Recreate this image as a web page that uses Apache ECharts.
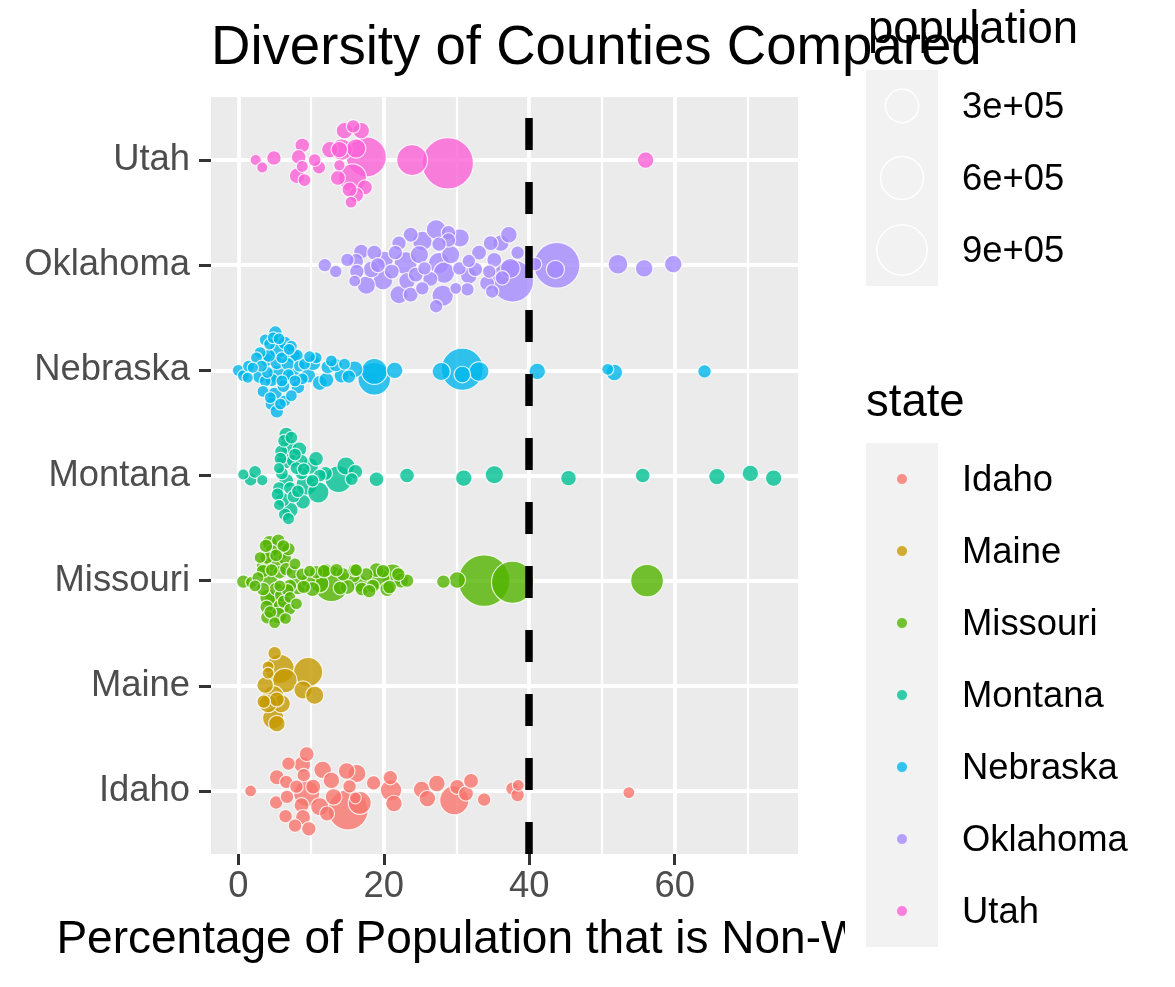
<!DOCTYPE html>
<html>
<head>
<meta charset="utf-8">
<script src="https://cdn.jsdelivr.net/npm/echarts@6/dist/echarts.min.js"></script>
<style>html,body{margin:0;padding:0;background:#fff}#c{width:1175px;height:987px}</style>
</head>
<body>
<div id="c"></div>
<script>
const states = ['Idaho','Maine','Missouri','Montana','Nebraska','Oklahoma','Utah'];
const stateColors = ['#F8766D','#C49A00','#53B400','#00C094','#00B6EB','#A58AFF','#FB61D7'];
const xTicks = [0, 20, 40, 60];
const xMinorTicks = [10, 30, 50, 70];
const yTicks = [1, 2, 3, 4, 5, 6, 7];
const popLegend = [300000, 600000, 900000];
const popLegendLabels = ['3e+05', '6e+05', '9e+05'];
const threshold = 40;
const titleText = 'Diversity of Counties Compared';
const xTitle = 'Percentage of Population that is Non-White';

// Each state: percent non-white, swarm offset (in category units), population
const idahoPct = [1.7,5.3,5.2,6.5,6.6,6.9,6.7,7.8,8.8,9.4,9.0,9.4,8.7,8.9,9.7,8.0,10.3,11.2,12.2,11.6,12.8,13.1,14.9,16.3,15.3,15.1,16.7,16.1,18.6,20.9,21.0,21.4,25.2,26.0,27.3,29.7,30.1,31.3,32.0,33.8,37.7,38.4,38.5,53.7];
const idahoOffset = [0,0.13,-0.11,-0.24,0.085,0.26,-0.057,-0.33,0.25,0.35,0.15,-0.025,-0.136,-0.25,-0.36,0.04,0.04,-0.15,-0.215,0.2,0.1,-0.057,0.19,0.165,0.044,-0.18,-0.114,-0.066,0.076,0.127,0.006,-0.12,0.013,-0.073,0.07,-0.089,0.038,-0.025,0.095,-0.082,0.022,-0.04,0.054,-0.016];
const idahoPop = [2000,13900,6800,6800,6800,6800,6800,6800,24200,13900,6800,142700,13900,13900,10900,6800,13900,37400,13900,31600,24200,24200,24200,37400,6800,505700,92700,2000,10900,10900,71100,24200,24200,24200,24200,203500,13900,13900,13900,6800,6800,6800,2000,2000];

const mainePct = [5.0,4.1,5.7,6.4,9.6,3.7,4.8,5.9,4.1,8.9,10.5,4.8,5.3,4.1,5.3,3.5];
const maineOffset = [0.31,0.18,0.16,0.05,0.13,0.006,-0.1,-0.17,-0.17,-0.04,-0.09,-0.31,-0.36,0.12,-0.13,-0.15];
const mainePop = [6800,2000,203500,115600,203500,24200,71100,37400,37400,37400,37400,71100,24200,2000,13900,6800];

const missouriPct = [0.7,1.8,2.7,3.4,4.3,5.5,5.9,4.6,3.9,5.0,6.4,3.4,4.3,5.7,6.6,7.5,8.2,7.1,5.7,3.4,4.1,4.8,5.9,7.1,3.9,5.9,5.5,5.0,7.1,9.6,9.8,11.2,10.7,12.8,14.4,15.8,16.7,17.6,18.5,19.4,19.9,21.2,22.4,23.2,28.2,30.1,33.8,37.7,56.2,4.6,6.2,5.2,6.8,4.4,6.5,5.2,8.8,12.0,14.0,17.0,20.8,16.2,2.3,3.0,7.8,8.0,9.0,10.2,11.8,13.5,15.0,16.0,18.0,19.0,20.5,22.0,3.8,6.9,4.0,6.3];
const missouriOffset = [-0.01,-0.016,0.03,0.14,0.36,0.38,0.28,0.28,0.22,0.16,0.21,0.09,0.016,0.08,0.11,0.08,-0.04,-0.05,-0.05,-0.08,-0.16,-0.19,-0.14,-0.16,-0.25,-0.25,-0.33,-0.4,-0.27,0,0.09,-0.03,0.08,-0.03,0.06,0.05,-0.03,0.06,-0.05,0.016,0.09,0.05,0,0,-0.01,0.006,0,-0.016,0,0.1,0.33,0.24,-0.09,-0.3,-0.36,-0.08,0.06,0.1,-0.07,-0.08,-0.06,0.1,-0.05,0.22,0.16,-0.22,-0.06,-0.08,0.09,0.1,-0.06,0.1,-0.1,0.1,-0.08,0.06,0.33,0.3,-0.35,-0.2];
const missouriPop = [6800,2000,2000,6800,13900,6800,24200,6800,6800,37400,6800,6800,24200,6800,6800,6800,52400,6800,2000,6800,24200,37400,6800,2000,6800,24200,24200,2000,2000,13900,2000,37400,6800,360000,6800,13900,24200,6800,6800,71100,6800,92700,13900,6800,6800,24200,956000,571000,284400,4400,4400,4400,4400,4400,2000,7900,4400,7900,7900,7900,7900,4400,2000,2000,2000,2000,6800,13900,6800,6800,13900,6800,6800,13900,13900,6800,6800,6800,6800,6800];

const montanaPct = [0.7,1.7,2.3,3.3,6.6,6.9,5.9,8.4,6.4,7.5,8.7,10.7,9.9,5.6,6.6,8.7,11.2,5.6,7.1,9.4,11.0,6.1,8.9,7.1,5.6,6.9,13.8,14.8,16.1,15.6,19.0,23.2,31.0,35.2,45.4,55.6,65.8,70.4,73.6,6.3,7.8,6.0,7.6,6.4,8.0,10.2,12.0,5.8,7.3,8.2,5.4,9.0];
const montanaOffset = [0.01,-0.04,0.035,-0.046,0.39,0.28,0.23,0.25,0.14,0.14,0.14,0.16,0.09,0.07,-0.05,0.02,0,-0.12,-0.12,-0.09,-0.16,-0.23,-0.25,-0.33,-0.28,-0.41,-0.035,0.09,0.035,-0.035,-0.035,0,-0.025,0.007,-0.025,0,-0.01,0.02,-0.025,0.33,0.2,0.02,-0.2,-0.37,0.07,-0.05,0.02,0.16,0.36,-0.15,-0.18,0.06];
const montanaPop = [800,4700,4700,800,12300,22800,4700,12300,22800,4700,4700,12300,22800,800,12300,4700,4700,4700,4700,71100,71100,12300,12300,22800,800,2800,160000,37400,12300,4700,12300,12300,22800,37400,17800,12300,22800,22800,22800,4400,4400,4400,4400,4400,4400,4400,7900,4400,4400,4400,4400,4400];

const nebraskaPct = [0.0,0.7,1.4,2.0,1.3,2.9,3.0,3.7,5.1,3.9,5.5,4.3,6.4,7.3,8.0,7.5,5.3,5.3,4.6,3.7,3.4,5.0,4.6,5.3,6.4,7.3,8.2,6.9,7.5,8.4,9.1,9.6,10.3,10.7,11.2,12.1,12.3,12.8,14.2,14.6,16.0,18.7,18.7,21.5,27.9,30.8,30.8,33.1,41.1,50.8,51.7,64.1,2.5,4.0,6.0,6.2,8.8,4.8,7.0,5.8,3.2,4.2,6.0,7.8,5.6,4.4,6.8,9.8,13.4,15.2];
const nebraskaOffset = [0,-0.05,0.04,0.025,-0.07,-0.06,0.17,0.29,0.36,0.1,0.2,0.25,0.26,0.23,0.14,0.14,0.07,-0.04,-0.09,-0.1,-0.2,-0.23,-0.32,-0.39,-0.29,-0.24,-0.16,-0.04,-0.04,0.04,0.06,-0.05,0.07,0.12,-0.12,-0.09,0.03,0.09,-0.05,0.06,0.01,-0.01,-0.08,0,-0.01,0.01,-0.04,-0.01,-0.01,0.01,-0.02,-0.01,0.12,-0.02,0.12,-0.15,-0.08,0.31,0.2,-0.32,0.04,0.14,-0.1,-0.1,0.3,-0.26,0.06,0.13,0.05,-0.06];
const nebraskaPop = [2000,2000,2000,800,800,6800,2000,2000,6800,6800,37400,2000,6800,2000,6800,13900,6800,37400,6800,2000,2000,13900,6800,6800,2000,2000,6800,2000,6800,2000,2000,13900,13900,2000,13900,13900,6800,2000,13900,2000,24200,142700,284400,24200,37400,571000,24200,52400,24200,2000,24200,6800,2000,2000,2000,4400,2000,2000,2000,2000,2000,6800,2000,2000,2000,2000,6800,2000,6800,6800];

const oklahomaPct = [11.9,13.4,15.0,16.9,16.2,16.3,16.0,17.6,18.3,18.7,20.1,19.9,19.2,21.1,22.1,23.0,23.2,22.1,23.7,23.7,25.3,24.9,24.4,25.3,25.6,27.2,28.9,30.5,28.9,27.6,27.6,28.3,29.2,28.1,27.2,29.9,30.4,31.7,31.5,31.7,33.1,34.7,36.1,37.2,35.2,34.5,34.2,34.9,38.4,37.7,37.4,40.8,43.8,43.6,52.2,55.8,59.8,21.6,26.4,32.6,36.3];
const oklahomaOffset = [0,-0.06,0.05,0.13,0.04,-0.06,-0.15,-0.19,-0.04,0.12,0.05,-0.14,0,-0.06,0.21,0.02,-0.15,-0.28,-0.28,0.29,0.23,0.1,-0.09,-0.22,-0.03,0.34,0.31,0.26,0.24,0.2,0.02,-0.07,0.1,-0.29,-0.39,-0.22,-0.03,-0.1,-0.23,0.04,0.12,0.21,0.21,0.29,0.05,-0.06,-0.17,-0.25,0.12,-0.15,-0.03,0.01,0,-0.04,0.01,-0.03,0.01,0.12,-0.13,-0.04,-0.12];
const oklahomaPop = [6800,3600,6800,13900,13900,10900,2000,37400,24200,13900,31600,52400,13900,13900,10900,92700,24200,37400,13900,13900,52400,37400,13900,6800,6800,52400,10900,37400,10900,10900,71100,71100,37400,71100,6800,2000,6800,24200,6800,6800,13900,13900,24200,24200,13900,6800,13900,6800,6800,571000,52400,6800,713000,37400,52400,31600,31600,10900,13900,10900,10900];

const utahPct = [2.4,3.3,4.9,8.8,8.3,8.8,8.1,9.1,10.5,11.1,12.6,13.9,13.9,14.6,16.9,15.8,16.2,17.6,14.2,15.7,13.7,17.4,16.2,15.5,15.3,23.9,28.8,56.0];
const utahOffset = [0,-0.07,0.02,0.14,0.03,-0.06,-0.15,-0.19,0,-0.07,0.1,0.1,-0.05,0.28,0.28,0.32,0.11,0.03,0.1,-0.17,-0.17,-0.26,-0.33,-0.4,-0.28,0,-0.03,0];
const utahPop = [800,800,11000,12000,12000,2000,18000,4500,4500,5500,24000,24000,1000,24000,24000,7000,49000,500000,71000,180000,14000,14000,14000,2000,14000,240000,950000,24000];

const pctByState = [idahoPct, mainePct, missouriPct, montanaPct, nebraskaPct, oklahomaPct, utahPct];
const offsetByState = [idahoOffset, maineOffset, missouriOffset, montanaOffset, nebraskaOffset, oklahomaOffset, utahOffset];
const popByState = [idahoPop, mainePop, missouriPop, montanaPop, nebraskaPop, oklahomaPop, utahPop];

const FONT = '"Liberation Sans", Arial, Helvetica, sans-serif';
const sizeOf = p => 10 + 0.0425 * Math.sqrt(p);
const Y_MIN = 0.4, Y_MAX = 7.6;
const X_MIN = -3.75, X_MAX = 76.95;

const series = states.map((s, i) => {
  const pts = pctByState[i].map((v, k) => [v, i + 1 + offsetByState[i][k], popByState[i][k]]);
  pts.sort((a, b) => b[2] - a[2]);
  return {
    name: s, type: 'scatter', data: pts, z: 2,
    symbolSize: v => sizeOf(v[2]),
    itemStyle: { color: stateColors[i], opacity: 0.8, borderColor: '#ffffff', borderWidth: 1.2 },
    emphasis: { disabled: true }
  };
});
series.push({
  type: 'scatter', data: [], z: 5, silent: true,
  markLine: {
    silent: true, symbol: ['none', 'none'], label: { show: false }, animation: false,
    lineStyle: { color: '#000000', width: 7.5, type: [32, 32], cap: 'butt', opacity: 1 },
    emphasis: { disabled: true },
    data: [[{ coord: [threshold, Y_MIN] }, { coord: [threshold, Y_MAX] }]]
  }
});

const graphics = [
  { type: 'rect', z: 100, shape: { x: 845, y: 905, width: 330, height: 82 }, style: { fill: '#ffffff' } },
  { type: 'text', z: 102, style: { text: 'population', x: 868, y: 30, fontSize: 45.5, fontFamily: FONT, fill: '#000', align: 'left', verticalAlign: 'middle' } },
  { type: 'rect', z: 101, shape: { x: 866, y: 70, width: 72, height: 216 }, style: { fill: '#F2F2F2' } },
  { type: 'text', z: 102, style: { text: 'state', x: 866, y: 403, fontSize: 45.5, fontFamily: FONT, fill: '#000', align: 'left', verticalAlign: 'middle' } },
  { type: 'rect', z: 101, shape: { x: 866, y: 443, width: 72, height: 504 }, style: { fill: '#F2F2F2' } }
];
popLegend.forEach((p, i) => {
  const cy = 106 + 72 * i;
  graphics.push({ type: 'circle', z: 102, shape: { cx: 902, cy: cy, r: sizeOf(p) / 2 }, style: { fill: 'none', stroke: '#ffffff', lineWidth: 1.5 } });
  graphics.push({ type: 'text', z: 102, style: { text: popLegendLabels[i], x: 962, y: cy + 2, fontSize: 36.4, fontFamily: FONT, fill: '#000', align: 'left', verticalAlign: 'middle' } });
});
states.forEach((s, i) => {
  const cy = 479 + 72 * i;
  graphics.push({ type: 'circle', z: 102, shape: { cx: 902, cy: cy, r: 5.5 }, style: { fill: stateColors[i], opacity: 0.8, stroke: '#ffffff', lineWidth: 1 } });
  graphics.push({ type: 'text', z: 102, style: { text: s, x: 962, y: cy + 2, fontSize: 36.4, fontFamily: FONT, fill: '#000', align: 'left', verticalAlign: 'middle' } });
});

const chart = echarts.init(document.getElementById('c'), null, { renderer: 'canvas' });
chart.setOption({
  animation: false,
  backgroundColor: '#ffffff',
  title: {
    text: titleText, left: 206, top: 14,
    textStyle: { fontSize: 54.6, fontWeight: 'normal', color: '#000', fontFamily: FONT, lineHeight: 60 }
  },
  grid: { left: 211, right: 377, top: 97, bottom: 133, show: true, backgroundColor: '#EBEBEB', borderWidth: 0, containLabel: false },
  xAxis: [
    {
      type: 'value', min: X_MIN, max: X_MAX,
      axisLine: { show: false, onZero: false },
      axisTick: { show: true, length: 11, lineStyle: { color: '#333333', width: 3 }, customValues: xTicks },
      axisLabel: { customValues: xTicks, color: '#4D4D4D', fontSize: 36.4, fontFamily: FONT, margin: 15 },
      splitLine: { show: true, lineStyle: { color: '#ffffff', width: 3.8 } },
      name: xTitle, nameLocation: 'middle', nameGap: 86,
      nameTextStyle: { fontSize: 46, color: '#000', fontFamily: FONT, verticalAlign: 'middle', padding: [0, 14, 0, 0] }
    },
    {
      type: 'value', min: X_MIN, max: X_MAX, position: 'top',
      axisLine: { show: false, onZero: false }, axisLabel: { show: false },
      axisTick: { show: false, customValues: xMinorTicks },
      splitLine: { show: true, lineStyle: { color: '#ffffff', width: 2.2 } }
    }
  ],
  yAxis: {
    type: 'value', min: Y_MIN, max: Y_MAX,
    axisLine: { show: false, onZero: false },
    axisTick: { show: true, length: 12, lineStyle: { color: '#333333', width: 3 }, customValues: yTicks },
    axisLabel: { customValues: yTicks, formatter: v => states[Math.round(v) - 1], color: '#4D4D4D', fontSize: 36.4, fontFamily: FONT, margin: 21 },
    splitLine: { show: true, lineStyle: { color: '#ffffff', width: 3.8 } }
  },
  graphic: { elements: graphics },
  series: series
});
</script>
</body>
</html>
